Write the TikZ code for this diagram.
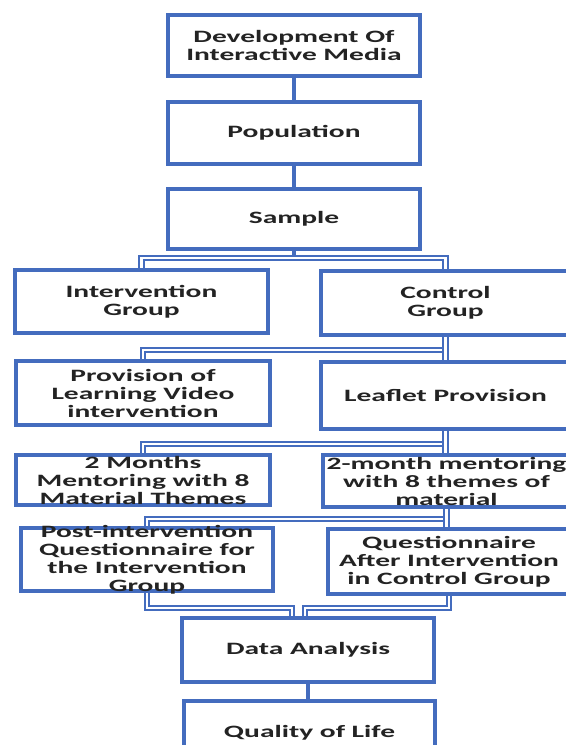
\documentclass[tikz,border=0pt]{standalone}
\usepackage{fontspec}
\setmainfont{Carlito}[FakeStretch=1.7]
\usepackage{tikz}
\usetikzlibrary{calc, backgrounds}
\definecolor{boxblue}{RGB}{68,108,190}
\definecolor{txtgray}{RGB}{35,35,35}

\begin{document}
\begin{tikzpicture}[x=0.75pt, y=-0.75pt,
    box/.style={draw=boxblue, line width=2.8pt, fill=white, rectangle, inner sep=0pt,
        align=center, text=txtgray, font=\fontsize{13}{13.5}\selectfont\bfseries},
    lbl/.style={align=center, text=txtgray, font=\fontsize{13}{13.5}\selectfont\bfseries},
    solidlink/.style={draw=boxblue, line width=3.6pt},
    branchlink/.style={draw=boxblue, line width=1.5pt, double=white, double distance=1.7pt}]
    \def\px{0.75pt}
    \useasboundingbox (0,0) rectangle (566,745);

    % Tronc commun
    \node[box, minimum width=252*\px, minimum height=61*\px] (dev) at (294,45.5) {Development Of\\Interactive Media};
    \node[box, minimum width=252*\px, minimum height=62*\px] (pop) at (294,133) {Population};
    \node[box, minimum width=252*\px, minimum height=60*\px] (samp) at (294,219) {Sample};

    % Groupes
    \node[box, minimum width=253*\px, minimum height=63*\px] (int) at (141.5,301.5) {Intervention\\Group};
    \node[box, minimum width=249*\px, minimum height=64*\px] (ctl) at (445.5,303) {Control\\Group};

    % Interventions
    \node[box, minimum width=254*\px, minimum height=64*\px] (prov) at (143,393) {Provision of\\Learning Video\\intervention};
    \node[box, minimum width=249*\px, minimum height=67*\px] (leaf) at (445.5,395.5) {Leaflet Provision};

    % Accompagnement
    \node[box, minimum width=254*\px, minimum height=50*\px] (mon) at (143,480) {2 Months\\Mentoring with 8\\Material Themes};
    \node[box, minimum width=247*\px, minimum height=52*\px] (mth) at (446.5,481) {2-month mentoring\\with 8 themes of\\material};

    % Questionnaires
    \node[box, minimum width=252*\px, minimum height=63*\px,
        label={[lbl]center:Post-intervention\\Questionnaire for\\the Intervention\\Group}] (post) at (147,559.5) {};
    \node[box, minimum width=242*\px, minimum height=65*\px] (qst) at (449,561.5) {Questionnaire\\After Intervention\\in Control Group};

    % Fin
    \node[box, minimum width=252*\px, minimum height=64*\px] (data) at (308,650) {Data Analysis};
    \node[box, minimum width=251*\px, minimum height=64*\px] (qol) at (309.5,733) {Quality of Life};

    % Liaisons
    \begin{scope}[on background layer]
        \draw[solidlink] (dev) -- (pop);
        \draw[solidlink] (pop) -- (samp);
        \draw[solidlink] (samp.south) -- ++(0,7) coordinate (j1);
        \draw[branchlink] (j1) -| (int.north);
        \draw[branchlink] (j1) -| (ctl.north);
        \draw[branchlink] (ctl.south) -- ++(0,13) -| (prov.north);
        \draw[branchlink] (ctl.south) -- (leaf.north);
        \draw[branchlink] (leaf.south) -- ++(0,13) -| (mon.north);
        \draw[branchlink] (leaf.south) -- (leaf.south |- mth.north);
        \draw[branchlink] (mth.south) -- ++(0,10) -| (post.north);
        \draw[branchlink] (mth.south) -- (mth.south |- qst.north);
        \draw[branchlink] (post.south) -- ++(0,15) -| ($(data.north)+(-16,0)$);
        \draw[branchlink] (qst.south) -- ++(0,12) -| ($(data.north)+(-3,0)$);
        \draw[solidlink] (data.south) -- (data.south |- qol.north);
    \end{scope}
\end{tikzpicture}
\end{document}
